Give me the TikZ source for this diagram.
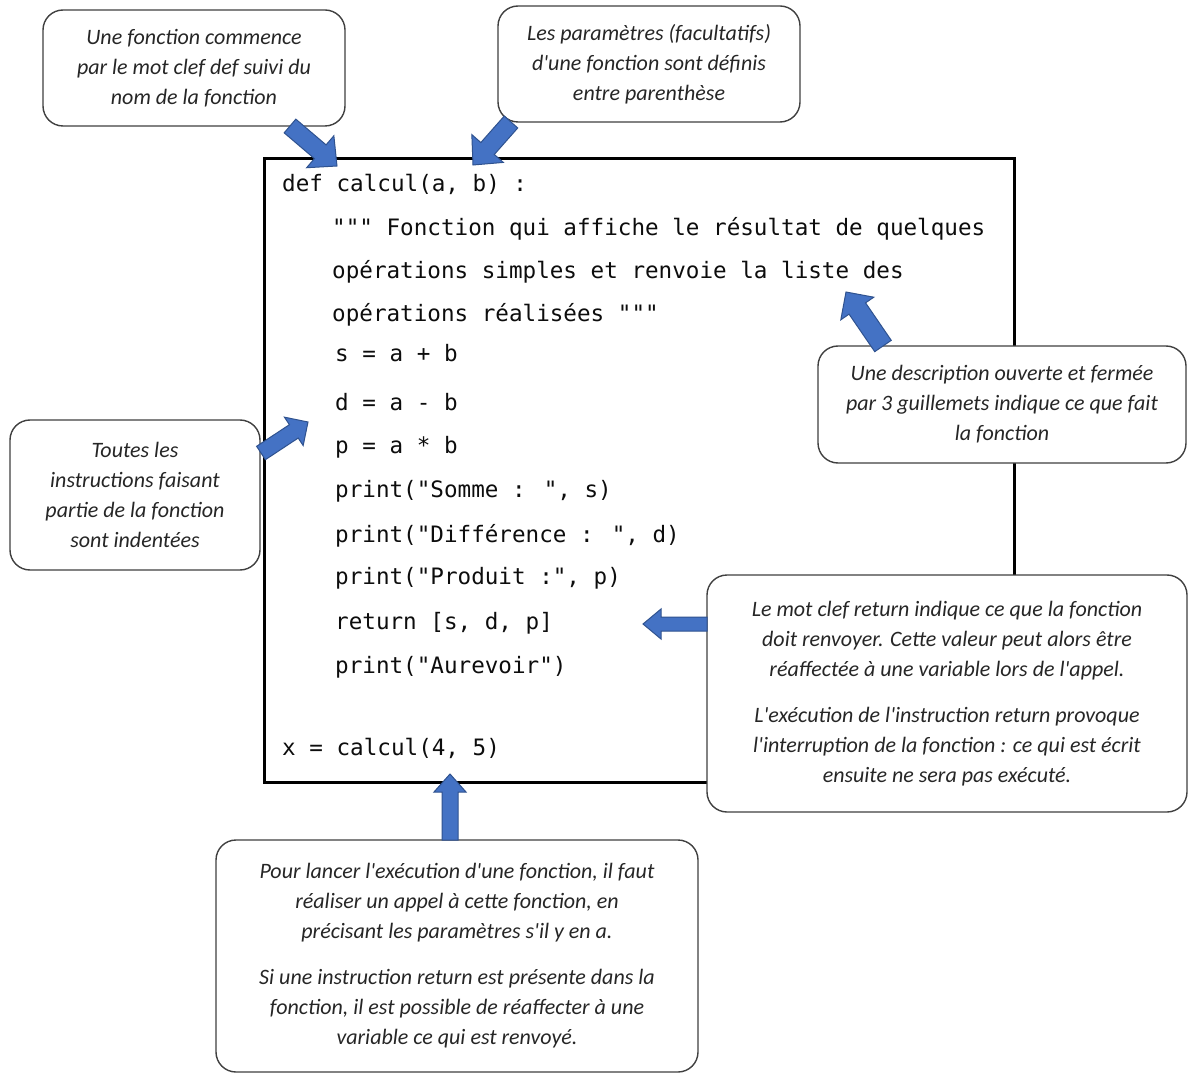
\documentclass[tikz,border=0pt]{standalone}
\usepackage{fontspec}
\setmainfont{Carlito}
\newfontfamily\callfont{Carlito}
\newfontfamily\codefont{DejaVu Sans Mono}
\usetikzlibrary{calc}
\definecolor{arrowfill}{HTML}{4472C4}
\definecolor{arrowline}{HTML}{2F528F}
\definecolor{callline}{HTML}{404040}
\definecolor{calltext}{HTML}{262626}
\definecolor{codetext}{HTML}{0D0D0D}
\tikzset{
  callout/.style={draw=callline, line width=1.4pt, fill=white, rounded corners=20pt,
    align=center, text=calltext, inner sep=4pt,
    font={\callfont\itshape\fontsize{22}{30}\selectfont}},
  codeline/.style={anchor=base west, inner sep=0pt, text=codetext,
    font={\codefont\fontsize{22.6}{27}\selectfont}},
  codebox/.style={draw=black, line width=3pt, inner sep=0pt, outer sep=0pt},
  blockarr/.style={fill=arrowfill, draw=arrowline, line width=1pt, line join=miter}
}
% #1 base, #2 tip, #3 half shaft, #4 half head, #5 head length
\newcommand\blockarrow[5]{%
  \coordinate (#1h) at ($(#2)!#5!(#1)$);
  \draw[blockarr] ($(#1)!#3!90:(#2)$) -- ($(#1h)!#3!-90:(#1)$) -- ($(#1h)!#4!-90:(#1)$) -- (#2)
    -- ($(#1h)!#4!90:(#1)$) -- ($(#1h)!#3!90:(#1)$) -- ($(#1)!#3!-90:(#2)$) -- cycle;}
\begin{document}
\begin{tikzpicture}[x=1pt,y=-1pt]
\useasboundingbox[fill=white] (0,0) rectangle (1189,1075);

% code box
\node[codebox, minimum width=750pt, minimum height=623pt] (code) at (639,470.5) {};

% code lines
\node[codeline] (l1) at (282,192) {def calcul(a, b) :};
\node[codeline] (l2) at (332,236) {""" Fonction qui affiche le résultat de quelques};
\node[codeline] (l3) at (332,279) {opérations simples et renvoie la liste des};
\node[codeline] (l4) at (332,322) {opérations réalisées """};
\node[codeline] (l5) at (335,362) {s = a + b};
\node[codeline] (l6) at (335,410) {d = a - b};
\node[codeline] (l7) at (335,453) {p = a * b};
\node[codeline] (l8) at (335,497) {print("Somme : ", s)};
\node[codeline] (l9) at (335,542) {print("Différence : ", d)};
\node[codeline] (l10) at (335,584) {print("Produit :", p)};
\node[codeline] (l11) at (335,629) {return [s, d, p]};
\node[codeline] (l12) at (335,673) {print("Aurevoir")};
\node[codeline] (l13) at (282,755) {x = calcul(4, 5)};

% callouts
\node[callout, minimum width=302pt, minimum height=116pt] (c1) at (194,68)
  {Une fonction commence\\par le mot clef def suivi du\\nom de la fonction};
\node[callout, minimum width=302pt, minimum height=116pt] (c2) at (649,64)
  {Les paramètres (facultatifs)\\d'une fonction sont définis\\entre parenthèse};
\node[callout, minimum width=368pt, minimum height=117pt] (c3) at (1002,404.5)
  {Une description ouverte et fermée\\par 3 guillemets indique ce que fait\\la fonction};
\node[callout, minimum width=250pt, minimum height=150pt] (c4) at (135,495)
  {Toutes les\\instructions faisant\\partie de la fonction\\sont indentées};
\node[callout, minimum width=480pt, minimum height=237pt] (c5) at (947,693.5)
  {Le mot clef return indique ce que la fonction\\doit renvoyer. Cette valeur peut alors être\\réaffectée à une variable lors de l'appel.\\[16pt]L'exécution de l'instruction return provoque\\l'interruption de la fonction : ce qui est écrit\\ensuite ne sera pas exécuté.};
\node[callout, minimum width=482pt, minimum height=232pt] (c6) at (457,956)
  {Pour lancer l'exécution d'une fonction, il faut\\réaliser un appel à cette fonction, en\\précisant les paramètres s'il y en a.\\[16pt]Si une instruction return est présente dans la\\fonction, il est possible de réaffecter à une\\variable ce qui est renvoyé.};

% arrow end points
\coordinate (a1s) at (290,126);  \coordinate (a1t) at (337,166);
\coordinate (a2s) at (511,122);  \coordinate (a2t) at (473,165);
\coordinate (a3s) at (883,346);  \coordinate (a3t) at (846,292);
\coordinate (a4s) at (261,453);  \coordinate (a4t) at (308,422);
\coordinate (a5s) at (707,624);  \coordinate (a5t) at (643,624);
\coordinate (a6s) at (450,840);  \coordinate (a6t) at (450,774);

\blockarrow{a1s}{a1t}{9pt}{21pt}{22pt}
\blockarrow{a2s}{a2t}{9pt}{21pt}{22pt}
\blockarrow{a3s}{a3t}{10pt}{20pt}{20pt}
\blockarrow{a4s}{a4t}{8pt}{17pt}{17pt}
\blockarrow{a5s}{a5t}{7pt}{15pt}{18pt}
\blockarrow{a6s}{a6t}{8pt}{16pt}{18pt}
\end{tikzpicture}
\end{document}
